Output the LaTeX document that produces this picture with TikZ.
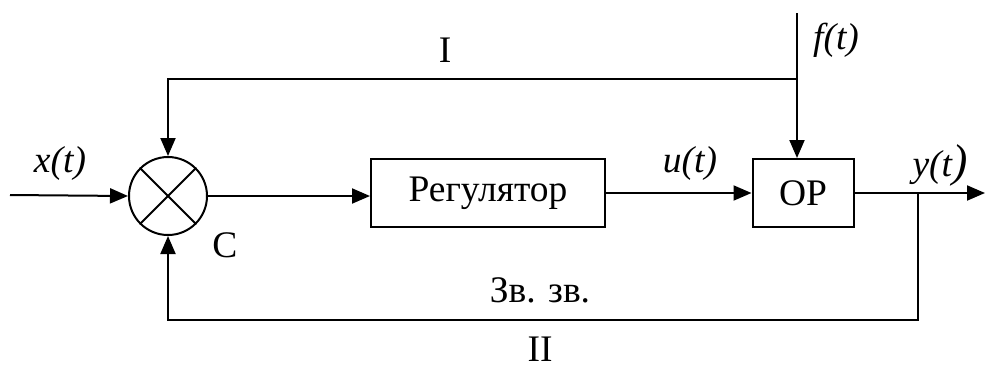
\documentclass[tikz,border=0pt]{standalone}
\usepackage{fontspec}
\setmainfont{Liberation Serif}
\usetikzlibrary{arrows.meta,calc}
\tikzset{
  wire/.style={line width=2pt},
  sig/.style={wire,-{Triangle[length=18pt,width=15pt]}},
  blockbox/.style={draw,line width=2pt,minimum height=68pt,inner sep=0pt},
  summer/.style={draw,circle,line width=2pt,minimum size=78pt,inner sep=0pt},
  lbl/.style={font=\fontsize{37.5}{42}\selectfont,inner sep=0pt},
  ilbl/.style={font=\fontsize{37.5}{42}\selectfont\itshape,inner sep=0pt}
}
\begin{document}
\begin{tikzpicture}[x=1pt,y=-1pt]
\useasboundingbox (0,0) rectangle (985,368);

% blocks
\node[summer] (c) at (168,196) {};
\draw[wire] (c.north west) -- (c.south east);
\draw[wire] (c.north east) -- (c.south west);
\node[blockbox,minimum width=234pt] (reg) at (488,193) {};
\node[lbl] (regt) at (reg.center) {Регулятор};
\node[blockbox,minimum width=101pt] (op) at (803,193) {};
\node[lbl] (opt) at (op.center) {ОР};

% points of the connectors
\coordinate (xin) at (10,195);
\coordinate (ftop) at (797,13);
\coordinate (tj) at (797,79);
\coordinate (tl) at (168,79);
\coordinate (bj) at (918,193);
\coordinate (yout) at (985,193);
\coordinate (br) at (918,320);
\coordinate (bl) at (168,320);

% main path
\draw[sig] (xin) -- (c.west);
\draw[sig] (c.east) -- (c.east -| reg.west);
\draw[sig] (reg.east) -- (reg.east -| op.west);
\draw[sig] (op.east) -- (yout);

% disturbance and feed-forward (I)
\draw[sig] (ftop) -- (ftop |- op.north);
\draw[sig] (tj) -- (tl) -- (c.north);

% feedback (II)
\draw[sig] (bj) -- (br) -- (bl) -- (c.south);

% labels
\node[ilbl] (lx) at (60,163) {x(t)};
\node[ilbl] (lu) at (690,163) {u(t)};
\node[ilbl,anchor=base] (ly) at (940,176) {y(t\fontsize{46}{46}\selectfont)};
\node[ilbl] (lf) at (836,40) {f(t)};
\node[lbl] (lI) at (445,50) {I};
\node[lbl] (lC) at (225,245) {С};
\node[lbl] (lfb) at (540,290) {Зв. зв.};
\node[lbl] (lII) at (540,349) {II};
\end{tikzpicture}
\end{document}
